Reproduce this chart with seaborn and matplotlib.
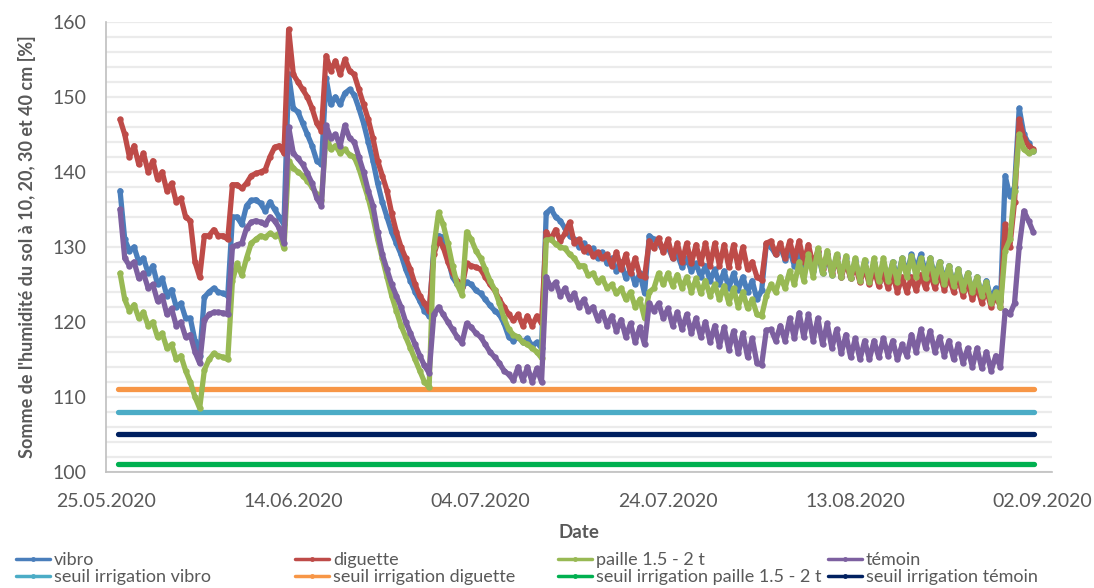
import numpy as np
import pandas as pd
import matplotlib
matplotlib.use("Agg")
import matplotlib.pyplot as plt
from matplotlib.lines import Line2D
import seaborn as sns

# ---------------- data ----------------
start_date = "2020-05-25"
days = np.arange(1.5, 99.01, 0.5)          # half-day sampling, days since 25.05.2020

vibro = [
    137.5, 131.0, 129.5, 130.0, 128.0, 128.5, 126.5, 127.5, 125.0, 125.8,
    123.5, 124.3, 122.0, 122.5, 120.5, 120.5, 117.5, 115.5, 123.3, 124.0,
    124.5, 124.0, 123.8, 123.5, 134.0, 134.0, 133.0, 135.5, 136.2, 136.3,
    135.8, 134.8, 136.0, 135.0, 134.0, 133.0, 153.0, 148.5, 148.0, 146.5,
    145.0, 143.5, 141.5, 141.0, 152.5, 149.0, 150.0, 149.0, 150.5, 151.0,
    150.3, 148.5, 146.5, 144.0, 141.5, 138.5, 136.0, 134.0, 132.0, 130.5,
    129.0, 127.0, 125.5, 124.0, 122.8, 121.5, 120.8, 130.0, 131.5, 131.3,
    128.5, 126.0, 125.0, 124.6, 125.3, 125.0, 124.2, 123.8, 123.0, 122.2,
    121.5, 121.0, 119.8, 118.0, 117.5, 118.0, 117.3, 117.8, 116.8, 117.3,
    116.5, 134.5, 135.1, 134.0, 133.5, 132.5, 131.5, 131.0, 130.0, 130.5,
    129.3, 129.8, 128.5, 129.3, 127.8, 128.5, 126.8, 128.0, 125.8, 127.0,
    125.0, 126.5, 123.8, 131.5, 131.0, 130.5, 129.5, 130.0, 128.5, 129.0,
    127.3, 128.5, 126.8, 127.8, 126.0, 127.5, 125.5, 127.0, 125.0, 126.8,
    124.5, 126.5, 124.3, 126.0, 124.0, 125.5, 123.0, 124.2, 130.4, 130.0,
    129.0, 130.0, 128.3, 129.5, 127.5, 129.5, 127.0, 129.5, 126.8, 129.3,
    126.5, 129.0, 126.3, 128.8, 126.0, 128.5, 125.8, 128.3, 125.5, 128.0,
    125.5, 127.8, 125.3, 127.8, 125.5, 128.0, 125.8, 128.5, 126.5, 129.0,
    127.0, 129.0, 126.5, 128.5, 126.0, 128.0, 125.5, 127.5, 125.0, 127.0,
    124.5, 126.5, 124.0, 126.0, 123.5, 125.5, 123.0, 124.5, 122.8, 139.5,
    136.8, 138.0, 148.5, 145.0, 143.8, 142.8,
]

diguette = [
    147.0, 145.0, 142.0, 143.5, 141.0, 142.5, 140.0, 141.5, 139.0, 140.0,
    137.5, 138.5, 136.0, 136.5, 134.0, 133.5, 128.0, 126.0, 131.5, 131.5,
    132.3, 131.5, 131.5, 131.0, 138.3, 138.3, 137.8, 138.5, 139.5, 139.8,
    140.0, 140.3, 142.0, 143.3, 143.5, 142.5, 159.0, 153.0, 152.0, 151.0,
    150.0, 148.5, 146.5, 145.5, 155.5, 153.5, 154.8, 153.0, 155.0, 153.5,
    153.0, 151.0, 149.0, 147.0, 144.5, 141.5, 139.5, 137.5, 134.5, 132.0,
    130.0, 128.5, 127.0, 125.0, 123.5, 122.5, 121.5, 129.0, 131.0, 130.0,
    128.0, 126.5, 125.5, 124.6, 127.8, 127.5, 127.3, 127.0, 126.0, 125.0,
    124.2, 123.0, 122.0, 121.0, 120.2, 121.0, 119.5, 120.8, 119.5, 120.8,
    119.8, 132.0, 131.0, 132.3, 130.8, 131.8, 133.3, 130.5, 131.0, 129.5,
    130.0, 128.8, 129.3, 128.5, 129.0, 127.5, 129.3, 127.0, 129.0, 126.5,
    128.5, 126.2, 126.0, 130.8, 129.8, 131.2, 129.3, 131.0, 128.5, 130.5,
    128.0, 130.5, 127.8, 130.3, 127.8, 130.5, 127.5, 130.5, 127.5, 130.3,
    127.3, 130.3, 127.3, 130.0, 127.0, 128.0, 126.0, 125.6, 130.5, 130.8,
    129.0, 130.5, 128.5, 130.8, 128.3, 130.8, 128.0, 130.3, 127.5, 129.5,
    127.0, 129.0, 126.5, 128.5, 126.0, 128.0, 125.8, 127.5, 125.3, 127.3,
    125.0, 127.0, 124.8, 126.5, 124.5, 126.3, 124.0, 126.0, 124.0, 126.0,
    124.2, 126.3, 124.5, 126.5, 124.5, 126.5, 124.3, 126.0, 124.0, 125.8,
    123.5, 125.3, 123.0, 124.8, 122.5, 124.3, 122.0, 123.5, 122.0, 133.0,
    130.0, 136.0, 147.0, 144.5, 143.5, 143.0,
]

paille = [
    126.5, 123.0, 121.5, 122.3, 120.5, 121.3, 119.5, 120.0, 118.0, 118.5,
    116.5, 117.0, 115.0, 115.5, 113.5, 112.0, 110.0, 108.5, 113.6, 115.0,
    115.8, 115.5, 115.3, 115.0, 125.5, 127.8, 126.2, 128.5, 130.5, 131.0,
    131.5, 131.3, 131.8, 131.5, 131.8, 129.8, 141.5, 140.5, 140.0, 139.5,
    138.8, 138.0, 137.0, 136.3, 145.0, 143.0, 143.5, 142.5, 143.0, 142.3,
    142.0, 140.5, 138.5, 136.5, 134.0, 131.0, 128.5, 126.0, 123.5, 121.5,
    119.5, 118.0, 116.5, 115.0, 113.5, 112.0, 111.3, 130.0, 134.6, 133.0,
    130.5, 127.5, 125.0, 123.6, 132.0, 131.0, 129.5, 128.5, 127.0, 125.5,
    124.3, 122.5, 120.5, 119.0, 118.3, 118.0, 117.3, 117.0, 116.5, 116.0,
    115.2, 130.9, 131.0, 130.4, 130.0, 129.8, 129.0, 128.5, 127.5, 127.5,
    126.2, 126.5, 125.3, 125.8, 124.5, 125.0, 123.8, 124.5, 123.0, 124.0,
    122.0, 123.0, 120.5, 124.0, 124.5, 126.5, 125.0, 126.5, 124.8, 126.3,
    124.5, 126.0, 124.0, 125.8, 123.8, 125.5, 123.5, 125.0, 123.0, 124.8,
    122.5, 124.5, 122.0, 124.0, 121.8, 123.0, 121.0, 120.8, 123.5, 125.0,
    124.0, 126.0, 124.5, 126.8, 125.0, 128.0, 125.5, 129.0, 126.0, 129.8,
    126.5, 129.5, 126.3, 129.0, 126.0, 128.8, 125.8, 128.5, 125.5, 128.3,
    125.3, 128.5, 125.5, 128.5, 125.5, 128.0, 125.3, 128.5, 126.0, 128.8,
    126.0, 128.5, 125.8, 128.5, 125.5, 128.0, 125.0, 127.5, 124.8, 127.0,
    124.3, 126.5, 124.0, 126.0, 123.5, 125.3, 122.5, 124.0, 122.0, 129.5,
    131.0, 137.5, 145.0, 143.0, 142.5, 142.8,
]

temoin = [
    135.0, 128.5, 127.5, 128.0, 125.8, 126.5, 124.5, 125.0, 122.8, 123.5,
    121.0, 121.8, 119.5, 120.0, 118.0, 118.3, 116.0, 114.5, 120.2, 121.0,
    121.3, 121.3, 121.2, 121.0, 130.0, 130.3, 130.5, 132.5, 133.3, 133.5,
    133.3, 133.0, 134.0, 133.5, 132.5, 130.5, 146.0, 142.5, 141.8, 141.0,
    139.8, 138.5, 136.5, 135.5, 146.2, 144.5, 145.0, 143.5, 146.2, 144.5,
    144.0, 142.0, 140.0, 137.5, 135.5, 132.0, 129.0, 127.0, 125.0, 123.5,
    122.0, 120.0, 118.5, 117.0, 115.5, 114.2, 113.2, 121.0, 122.0, 121.0,
    120.0, 119.0, 118.0, 117.2, 119.8, 119.3, 118.5, 118.0, 117.0, 116.0,
    115.3, 114.5, 113.5, 113.0, 112.2, 114.0, 112.2, 114.0, 112.0, 113.8,
    112.0, 126.0, 124.5, 125.3, 123.5, 124.5, 123.0, 123.8, 122.0, 123.0,
    121.5, 122.0, 120.3, 121.3, 119.5, 120.8, 118.8, 120.3, 118.0, 119.8,
    117.3, 119.3, 117.0, 122.5, 121.5, 122.5, 120.5, 121.8, 119.5, 121.3,
    119.0, 121.0, 118.5, 120.5, 118.0, 120.0, 117.3, 119.5, 116.8, 119.3,
    116.3, 118.8, 115.8, 118.5, 115.3, 117.8, 114.5, 114.3, 118.9, 119.0,
    117.5, 119.5, 117.5, 120.5, 117.8, 121.2, 118.0, 121.0, 117.5, 120.5,
    117.0, 119.8, 116.5, 119.0, 115.8, 118.3, 115.3, 117.8, 115.0, 117.5,
    115.0, 117.5, 115.3, 117.8, 115.5, 117.5, 115.0, 117.0, 115.5, 118.3,
    116.0, 119.0, 116.5, 118.8, 116.0, 118.0, 115.5, 117.5, 115.0, 117.0,
    114.5, 116.5, 114.0, 116.5, 113.8, 116.0, 113.5, 115.5, 114.0, 121.5,
    121.0, 122.5, 130.0, 134.8, 133.5, 132.0,
]

threshold_days = [1.3, 99.1]
threshold_names = ["seuil irrigation vibro", "seuil irrigation diguette",
                   "seuil irrigation paille 1.5 - 2 t", "seuil irrigation témoin"]
threshold_values = [108, 111, 101, 105]

series_names = ["vibro", "diguette", "paille 1.5 - 2 t", "témoin"]
series_values = [vibro, diguette, paille, temoin]
series_colors = ["#4A7EBB", "#BE4B48", "#98B954", "#7D60A0"]
threshold_colors = ["#4BACC6", "#F79646", "#00B050", "#002060"]

x_tick_labels = ["25.05.2020", "14.06.2020", "04.07.2020",
                 "24.07.2020", "13.08.2020", "02.09.2020"]

# ---------------- plot ----------------
sns.set_theme(style="white")
plt.rcParams["font.family"] = ["Lato", "DejaVu Sans"]
txt_color = "#595959"

t0 = pd.Timestamp(start_date)
dates = t0 + pd.to_timedelta(days, unit="D")
tdates = t0 + pd.to_timedelta(threshold_days, unit="D")

fig = plt.figure(figsize=(10.94, 5.88), dpi=100)
ax = fig.add_axes([0.0969, 0.1973, 0.8647, 0.7653])

# horizontal grid every 2 units
for yv in np.arange(100, 161, 2):
    ax.axhline(yv, color="#EBEBEB", lw=1.6, zorder=0)

handles = {}
for name, vals, col in zip(series_names, series_values, series_colors):
    df = pd.DataFrame({"date": dates, "val": vals})
    sns.lineplot(data=df, x="date", y="val", ax=ax, color=col, lw=3.8,
                 marker="o", markersize=4.6, markeredgewidth=0,
                 sort=False, legend=False, zorder=3)
    handles[name] = Line2D([0], [0], color=col, lw=2.5, marker="o",
                           markersize=3.5, markeredgewidth=0)

for name, val, col in zip(threshold_names, threshold_values, threshold_colors):
    df = pd.DataFrame({"date": tdates, "val": [val, val]})
    sns.lineplot(data=df, x="date", y="val", ax=ax, color=col, lw=3.8,
                 solid_capstyle="round", sort=False, legend=False, zorder=2)
    handles[name] = Line2D([0], [0], color=col, lw=2.5, marker="o",
                           markersize=3.5, markeredgewidth=0)

ax.set_ylim(100, 160)
ax.set_yticks(np.arange(100, 161, 10))
tick_dates = [t0 + pd.Timedelta(days=20 * i) for i in range(len(x_tick_labels))]
ax.set_xlim(t0, t0 + pd.Timedelta(days=101))
ax.set_xticks(tick_dates)
ax.set_xticklabels(x_tick_labels)

ax.tick_params(axis="x", which="major", direction="out", length=6, width=1,
               color="#BFBFBF", labelsize=14, labelcolor=txt_color, pad=9)
ax.tick_params(axis="y", length=0, labelsize=14, labelcolor=txt_color, pad=14)

for s in ["top", "right"]:
    ax.spines[s].set_visible(False)
for s in ["left", "bottom"]:
    ax.spines[s].set_color("#BFBFBF")
    ax.spines[s].set_linewidth(1.2)

ax.set_xlabel("Date", fontsize=13.5, fontweight="bold", color=txt_color, labelpad=10)
ax.set_ylabel("Somme de l'humidité du sol à 10, 20, 30 et 40 cm [%]",
              fontsize=13, fontweight="bold", color=txt_color, labelpad=12)

# legend: 4 columns x 2 rows
col_x = [16, 295, 558, 828]
pairs = [("vibro", "seuil irrigation vibro"),
         ("diguette", "seuil irrigation diguette"),
         ("paille 1.5 - 2 t", "seuil irrigation paille 1.5 - 2 t"),
         ("témoin", "seuil irrigation témoin")]
for cx, (a, b) in zip(col_x, pairs):
    fig.legend(handles=[handles[a], handles[b]], labels=[a, b],
               loc="upper left", bbox_to_anchor=(cx / 1094, 1 - 552 / 588),
               frameon=False, fontsize=13, labelcolor=txt_color,
               handlelength=1.9, handletextpad=0.2, labelspacing=0.05,
               borderpad=0, borderaxespad=0)

fig.savefig("out.png", dpi=100)
